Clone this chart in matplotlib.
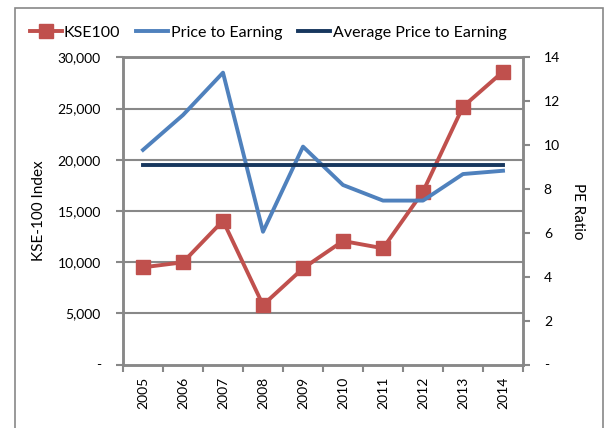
import numpy as np
import matplotlib
matplotlib.use('Agg')
import matplotlib.pyplot as plt
from matplotlib.patches import Rectangle
from matplotlib.lines import Line2D

plt.rcParams['font.family'] = ['Lato', 'DejaVu Sans']

# ==================== 数据 ====================
years = ['2005', '2006', '2007', '2008', '2009', '2010', '2011', '2012', '2013', '2014']
kse100 = [9490, 9980, 14040, 5810, 9390, 12060, 11350, 16880, 25180, 28600]
pe_ratio = [9.78, 11.37, 13.3, 6.05, 9.93, 8.18, 7.47, 7.47, 8.68, 8.83]
avg_pe = [9.1] * len(years)

left_ticks = [0, 5000, 10000, 15000, 20000, 25000, 30000]
left_labels = ['-', '5,000', '10,000', '15,000', '20,000', '25,000', '30,000']
right_ticks = [0, 2, 4, 6, 8, 10, 12, 14]
right_labels = ['-', '2', '4', '6', '8', '10', '12', '14']

# ==================== 绘图 ====================
RED = '#C0504D'
BLUE = '#4F81BD'
NAVY = '#17375E'
GRID = '#888888'
LW = 2.8

fig = plt.figure(figsize=(6.08, 4.28), dpi=100)
fig.patch.set_facecolor('white')
fig.patches.append(Rectangle((15 / 608, -0.2), 588 / 608, 1.2 - 8 / 428,
                             transform=fig.transFigure, fill=False,
                             edgecolor=GRID, lw=1.2))

ax = fig.add_axes([123 / 608, 1 - 364.5 / 428, 400 / 608, (364.5 - 57.3) / 428])
ax2 = ax.twinx()

x = np.arange(len(years))
ax.set_xlim(-0.5, len(years) - 0.5)
ax.set_ylim(0, 30000)
ax2.set_ylim(0, 14)

# 网格线
for t in left_ticks[1:]:
    ax.axhline(t, color=GRID, lw=1.5, zorder=0)

ax.plot(x, kse100, '-s', color=RED, lw=LW, ms=9.5, zorder=3)
ax2.plot(x, pe_ratio, '-', color=BLUE, lw=LW, zorder=3)
ax2.plot(x, avg_pe, '-', color=NAVY, lw=LW, zorder=3)

# 轴
for a in (ax, ax2):
    for s in a.spines.values():
        s.set_color(GRID)
        s.set_linewidth(1.8)
    a.tick_params(colors=GRID, width=1.5, length=5, labelcolor='black', labelsize=10)

ax.set_yticks(left_ticks)
ax.set_yticklabels(left_labels)
ax2.set_yticks(right_ticks)
ax2.set_yticklabels(right_labels)

ax.set_xticks(np.arange(-0.5, len(years), 1))
ax.set_xticklabels([])
ax.set_xticks(x, minor=True)
ax.set_xticklabels(years, minor=True, rotation=90)
ax.tick_params(axis='x', which='major', length=5, width=1.5, color=GRID)
ax.tick_params(axis='x', which='minor', length=0, pad=9, labelsize=10)
ax.tick_params(axis='y', pad=11)
ax2.tick_params(axis='y', pad=10)

ax.set_ylabel('KSE-100 Index', fontsize=11, labelpad=8)
ax2.set_ylabel('PE Ratio', fontsize=11, rotation=270, labelpad=18)

# 图例
handles = [
    Line2D([], [], color=RED, lw=LW, marker='s', ms=9.5),
    Line2D([], [], color=BLUE, lw=LW),
    Line2D([], [], color=NAVY, lw=LW),
]
fig.legend(handles, ['KSE100', 'Price to Earning', 'Average Price to Earning'],
           loc='center', bbox_to_anchor=(268 / 608, 1 - 33 / 428), ncol=3,
           frameon=False, fontsize=11.5, handlelength=2.0, handletextpad=0.15,
           columnspacing=1.0, borderpad=0)

fig.savefig('out.png', dpi=100)
